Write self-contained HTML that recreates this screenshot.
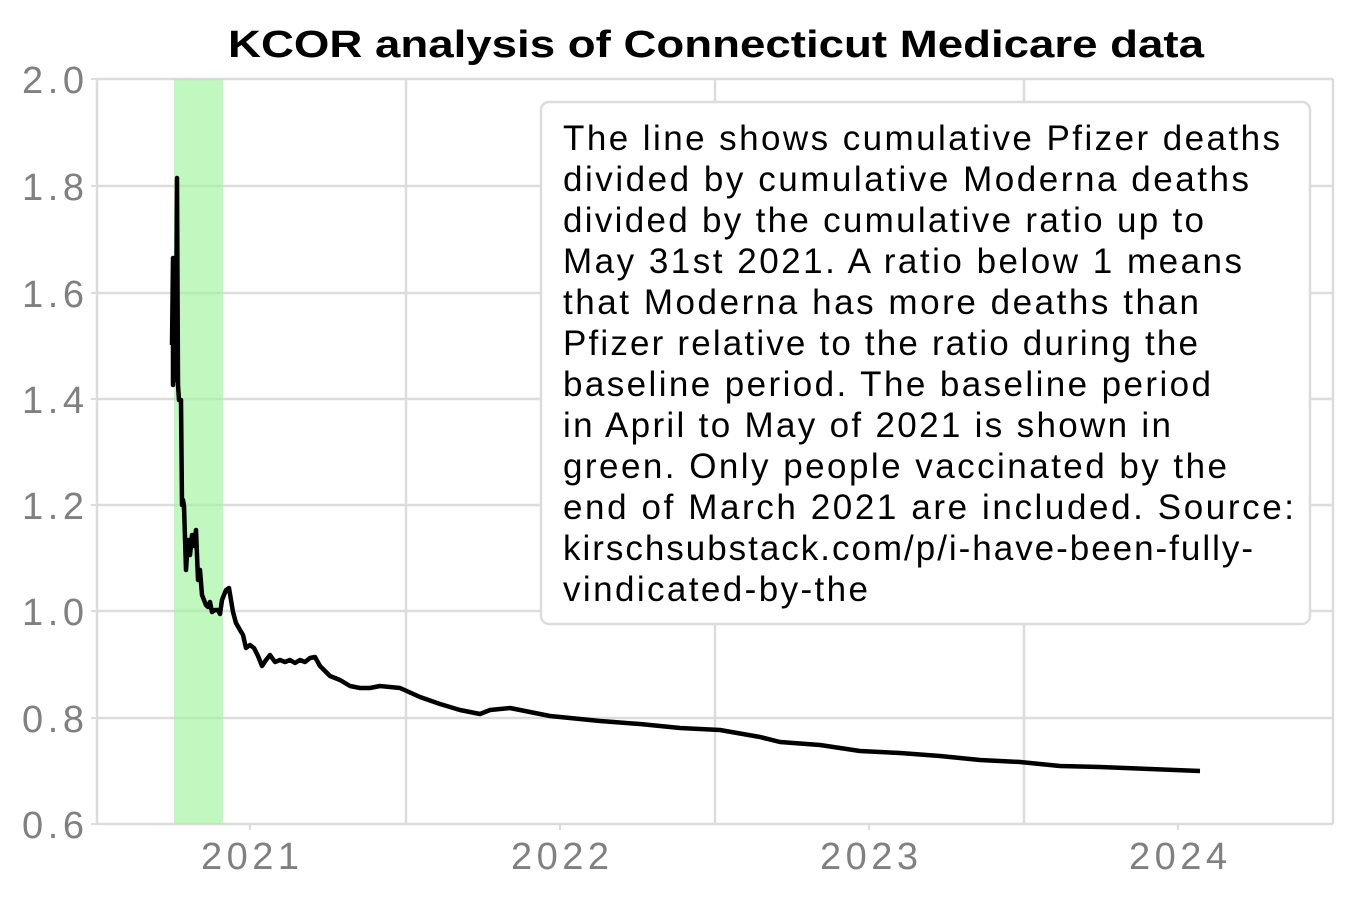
<!DOCTYPE html>
<html><head><meta charset="utf-8"><style>
body{margin:0;background:#fff}
svg text{font-family:"Liberation Sans",sans-serif}
</style></head><body>
<svg width="1350" height="900" xmlns="http://www.w3.org/2000/svg">
<rect width="1350" height="900" fill="#fff"/>
<text x="228" y="57" font-size="38" font-weight="bold" textLength="976" lengthAdjust="spacingAndGlyphs" fill="#000">KCOR analysis of Connecticut Medicare data</text>
<g stroke="#dcdcdc" stroke-width="2.5">
<line x1="97" y1="79" x2="1333" y2="79"/><line x1="97" y1="186" x2="1333" y2="186"/><line x1="97" y1="293" x2="1333" y2="293"/><line x1="97" y1="399" x2="1333" y2="399"/><line x1="97" y1="505" x2="1333" y2="505"/><line x1="97" y1="611" x2="1333" y2="611"/><line x1="97" y1="718" x2="1333" y2="718"/><line x1="97" y1="824" x2="1333" y2="824"/>
<line x1="97" y1="79" x2="97" y2="824"/><line x1="406" y1="79" x2="406" y2="824"/><line x1="715" y1="79" x2="715" y2="824"/><line x1="1024" y1="79" x2="1024" y2="824"/><line x1="1333" y1="79" x2="1333" y2="824"/>
</g>
<g stroke="#dcdcdc" stroke-width="2"><line x1="91" y1="79" x2="97" y2="79"/><line x1="91" y1="186" x2="97" y2="186"/><line x1="91" y1="293" x2="97" y2="293"/><line x1="91" y1="399" x2="97" y2="399"/><line x1="91" y1="505" x2="97" y2="505"/><line x1="91" y1="611" x2="97" y2="611"/><line x1="91" y1="718" x2="97" y2="718"/><line x1="91" y1="824" x2="97" y2="824"/>
<line x1="250" y1="824" x2="250" y2="830"/><line x1="560" y1="824" x2="560" y2="830"/><line x1="869" y1="824" x2="869" y2="830"/><line x1="1178" y1="824" x2="1178" y2="830"/></g>
<rect x="174" y="79" width="49" height="745" fill="#9ef59e" opacity="0.65"/>
<g font-size="38" fill="#808080" lengthAdjust="spacingAndGlyphs">
<text x="22" y="93" textLength="62">2.0</text><text x="22" y="200" textLength="62">1.8</text><text x="22" y="307" textLength="62">1.6</text><text x="22" y="413" textLength="62">1.4</text><text x="22" y="519" textLength="62">1.2</text><text x="22" y="625" textLength="62">1.0</text><text x="22" y="732" textLength="62">0.8</text><text x="22" y="838" textLength="62">0.6</text></g>
<g font-size="38" fill="#808080" lengthAdjust="spacingAndGlyphs">
<text x="201" y="869" textLength="98">2021</text><text x="511" y="869" textLength="98">2022</text><text x="820" y="869" textLength="98">2023</text><text x="1129" y="869" textLength="98">2024</text></g>
<polyline fill="none" stroke="#000" stroke-width="4.5" stroke-linejoin="round" points="172,345 173,258 173,385 175,310 175,380 176,344 177,178 178,385 179,400 181,400 182,505 183,500 184,506 186,570 188,540 190,555 192,535 194,546 196,530 198,580 200,570 202,595 204,600 206,605 208,607 210,602 212,612 215,610 218,610 220,614 222,600 224,595 226,590 229,588 231,600 233,612 236,623 240,630 243,635 246,648 250,645 254,648 258,656 262,666 266,660 270,655 275,662 280,660 285,662 290,660 295,663 300,660 305,662 310,658 315,657 320,666 330,676 340,680 350,686 360,688 370,688 380,686 400,688 420,697 440,704 460,710 480,714 490,710 510,708 530,712 550,716 570,718 600,721 640,724 680,728 720,730 760,737 780,742 820,745 860,751 900,753 940,756 980,760 1020,762 1060,766 1100,767 1150,769 1200,771"/>
<rect x="541" y="102" width="769" height="522" rx="8" fill="#fff" stroke="#dcdcdc" stroke-width="2.5"/>
<g font-size="35" fill="#000" lengthAdjust="spacingAndGlyphs">
<text x="563" y="150" textLength="717">The line shows cumulative Pfizer deaths</text>
<text x="563" y="191" textLength="686">divided by cumulative Moderna deaths</text>
<text x="563" y="232" textLength="641">divided by the cumulative ratio up to</text>
<text x="563" y="273" textLength="679">May 31st 2021. A ratio below 1 means</text>
<text x="563" y="314" textLength="636">that Moderna has more deaths than</text>
<text x="563" y="355" textLength="635">Pfizer relative to the ratio during the</text>
<text x="563" y="396" textLength="648">baseline period. The baseline period</text>
<text x="563" y="437" textLength="608">in April to May of 2021 is shown in</text>
<text x="563" y="478" textLength="664">green. Only people vaccinated by the</text>
<text x="563" y="519" textLength="731">end of March 2021 are included. Source:</text>
<text x="563" y="560" textLength="690">kirschsubstack.com/p/i-have-been-fully-</text>
<text x="563" y="601" textLength="305">vindicated-by-the</text>
</g>
</svg>
</body></html>
